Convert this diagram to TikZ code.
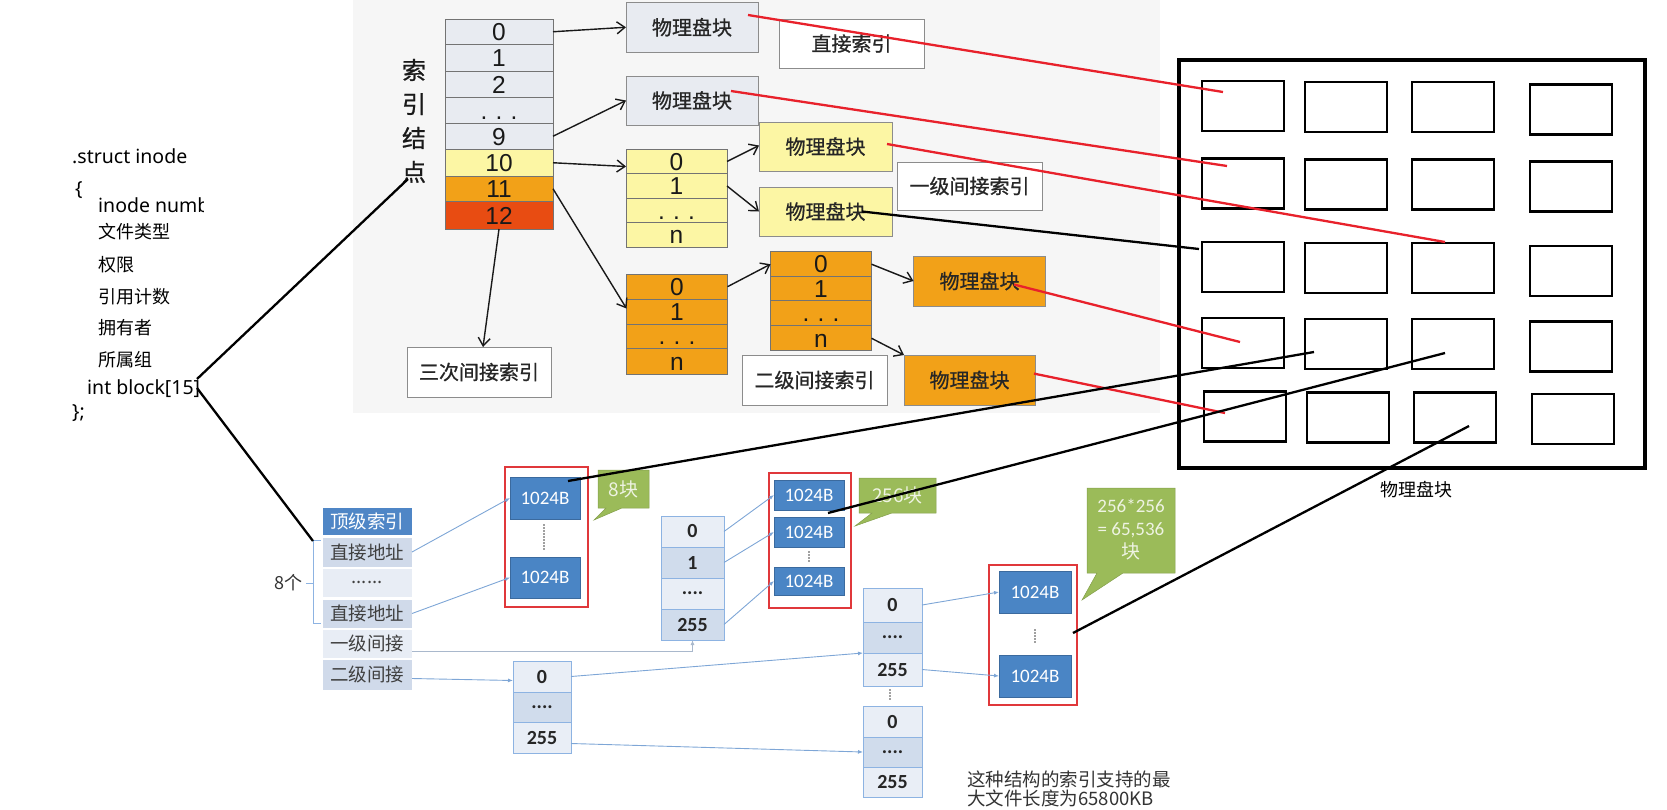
\documentclass[tikz,border=0pt]{standalone}
\usepackage{fontspec}
\setmainfont{Noto Sans CJK SC}
\newfontfamily\arialf{Liberation Sans}
\newfontfamily\calf{Carlito}
\newfontfamily\segf{Noto Sans}
\newfontfamily\topf[FakeBold=0.8]{Noto Sans CJK SC}
\usetikzlibrary{arrows.meta,calc}
\definecolor{bggray}{HTML}{F6F6F6}
\definecolor{gbox}{HTML}{E8EBF1}
\definecolor{ybox}{HTML}{FCF6A4}
\definecolor{obox}{HTML}{F2A118}
\definecolor{rbox}{HTML}{E84C12}
\definecolor{hdrblue}{HTML}{4F86C6}
\definecolor{rowdark}{HTML}{D0DAEA}
\definecolor{rowlight}{HTML}{E8EDF5}
\definecolor{colborder}{HTML}{8DB3E2}
\definecolor{colfillA}{HTML}{E9EEF6}
\definecolor{colfillB}{HTML}{D0DCEC}
\definecolor{blkblue}{HTML}{4A85C5}
\definecolor{redline}{HTML}{E8212B}
\definecolor{framered}{HTML}{E0383B}
\definecolor{calgreen}{HTML}{9BBB59}
\definecolor{caltext}{HTML}{EEF3E2}
\definecolor{arrowblue}{HTML}{7EA6D6}
\definecolor{arrowgray}{HTML}{A9B8CC}
\begin{document}
\begin{tikzpicture}[x=1pt,y=-1pt,
  cellg/.style={draw=black!55, line width=0.9pt, inner sep=0pt, outer sep=0pt},
  idx/.style={cellg, minimum width=108pt, font=\arialf\fontsize{24.5}{24.5}\selectfont, text=black!90, text height=17.5pt, text depth=0pt},
  ycell/.style={cellg, minimum width=101pt, font=\arialf\fontsize{24.5}{24.5}\selectfont, text=black!90, text height=17.5pt, text depth=0pt},
  tb/.style={cellg, draw=black!45, font=\topf\fontsize{20}{20}\selectfont, text=black!85},
  lb/.style={tb, fill=white},
  code/.style={anchor=west, inner sep=0pt, font=\fontsize{18}{18}\selectfont, text=black},
  codel/.style={code, font=\segf\fontsize{19.5}{19.5}\selectfont},
  arr/.style={-{Straight Barb[length=8pt,width=12pt]}, line width=1.4pt, black!90},
  redl/.style={redline, line width=2.3pt},
  blkl/.style={black, line width=2.3pt},
  gcell/.style={draw=black, line width=2.7pt, minimum width=82pt, minimum height=50pt, inner sep=0pt},
  tbl/.style={inner sep=0pt, outer sep=0pt, minimum width=90pt, draw=white, line width=1pt, font=\fontsize{18.5}{18.5}\selectfont, text=black!75},
  colc/.style={draw=colborder, line width=1pt, inner sep=0pt, outer sep=0pt, font=\calf\bfseries\fontsize{20}{20}\selectfont, text=black!85},
  blk/.style={draw=blkblue!80!black, fill=blkblue, line width=0.6pt, text=white, font=\calf\fontsize{19}{19}\selectfont, inner sep=0pt, outer sep=0pt},
  frm/.style={draw=framered, line width=2pt, inner sep=0pt, fill=white},
  barr/.style={arrowblue, line width=0.9pt, -{Latex[length=5pt,width=4pt]}},
  vdots/.style={black!75, line width=1.8pt, line cap=round, dash pattern=on 0pt off 3pt}
]
\useasboundingbox (0,0) rectangle (1667,809);
\fill[bggray] (353,0) rectangle (1160,413);

% ---------- code text ----------
\node[codel] (cs) at (72,156) {.struct inode};
\node[codel] (cbr) at (75,190) {\{};
\begin{scope}
\clip (60,192) rectangle (203,220);
\node[codel] (cn) at (98,205) {inode numb};
\end{scope}
\node[code] (c1) at (98,232) {文件类型};
\node[code] (c2) at (98,265) {权限};
\node[code] (c3) at (98,297) {引用计数};
\node[code] (c4) at (98,328) {拥有者};
\node[code] (c5) at (98,360) {所属组};
\node[codel] (c6) at (87,389) {int block[15]};
\node[codel] (c7) at (72,413) {\};};

% ---------- top: index node ----------
\node[font=\topf\fontsize{24}{34}\selectfont, align=center, inner sep=0pt, text=black!90] (syjd) at (414,121) {索\\引\\结\\点};
\node[idx, fill=gbox, minimum height=25.5pt] (r0) at (499,31.75) {0};
\node[idx, fill=gbox, minimum height=26.5pt] (r1) at (499,57.75) {1};
\node[idx, fill=gbox, minimum height=26.5pt] (r2) at (499,84.25) {2};
\node[idx, fill=gbox, minimum height=25.5pt] (r3) at (499,110.25) {.\,\,.\,\,.};
\node[idx, fill=gbox, minimum height=26.5pt] (r4) at (499,136.25) {9};
\node[idx, fill=ybox, minimum height=26.5pt] (r5) at (499,162.75) {10};
\node[idx, fill=obox, minimum height=25.5pt] (r6) at (499,188.75) {11};
\node[idx, fill=rbox, minimum height=27.5pt] (r7) at (499,215.25) {12};

% physical blocks and labels
\node[tb, fill=gbox, minimum width=132pt, minimum height=49.5pt] (pbA) at (692,27.25) {物理盘块};
\node[lb, minimum width=145pt, minimum height=49pt] (zjsy) at (851.5,43.5) {直接索引};
\node[tb, fill=gbox, minimum width=132pt, minimum height=49pt] (pbB) at (692,100.5) {物理盘块};

% yellow single indirect
\node[ycell, fill=ybox, minimum height=23.8pt] (y0) at (676.5,161.5) {0};
\node[ycell, fill=ybox, minimum height=25.2pt] (y1) at (676.5,186) {1};
\node[ycell, fill=ybox, minimum height=23.8pt] (y2) at (676.5,210.5) {.\,\,.\,\,.};
\node[ycell, fill=ybox, minimum height=25.5pt] (y3) at (676.5,235.15) {n};
\node[tb, fill=ybox, minimum width=133pt, minimum height=49pt] (pbC) at (825.5,146.5) {物理盘块};
\node[tb, fill=ybox, minimum width=133pt, minimum height=49pt] (pbD) at (825.5,211.5) {物理盘块};
\node[lb, minimum width=145pt, minimum height=48pt] (yjsy) at (969.5,186) {一级间接索引};

% orange double indirect
\node[ycell, fill=obox, minimum height=24.6pt] (oa0) at (677,286.7) {0};
\node[ycell, fill=obox, minimum height=25pt] (oa1) at (677,311.5) {1};
\node[ycell, fill=obox, minimum height=24.4pt] (oa2) at (677,336.2) {.\,\,.\,\,.};
\node[ycell, fill=obox, minimum height=25.8pt] (oa3) at (677,361.3) {n};
\node[ycell, fill=obox, minimum height=25.2pt] (ob0) at (821,264.2) {0};
\node[ycell, fill=obox, minimum height=23.8pt] (ob1) at (821,288.7) {1};
\node[ycell, fill=obox, minimum height=25.2pt] (ob2) at (821,313.2) {.\,\,.\,\,.};
\node[ycell, fill=obox, minimum height=24.9pt] (ob3) at (821,338.25) {n};
\node[tb, fill=obox, minimum width=132pt, minimum height=50pt] (pbE) at (979.5,281) {物理盘块};
\node[tb, fill=obox, minimum width=131pt, minimum height=50pt] (pbF) at (969.5,380) {物理盘块};
\node[lb, minimum width=145pt, minimum height=50pt] (ejsy) at (814.5,380) {二级间接索引};
\node[lb, minimum width=144pt, minimum height=50pt] (scjsy) at (479,372) {三次间接索引};

% top arrows
\draw[arr] (r0.east) -- (pbA.west);
\draw[arr] (r4.east) -- (pbB.west);
\draw[arr] (r5.east) -- ($(y0.west)+(0,5)$);
\draw[arr] (y0.east) -- ($(pbC.west)+(0,-1)$);
\draw[arr] (y1.east) -- (pbD.west);
\draw[arr] (r6.east) -- ($(oa1.west)+(0,-3)$);
\draw[arr] (oa0.east) -- (ob0.west);
\draw[arr] (ob0.east) -- (pbE.west);
\draw[arr] (ob3.east) -- (pbF.north west);
\draw[arr] (r7.south) -- ($(scjsy.north)+(4,0)$);

% ---------- disk grid ----------
\draw[line width=4pt] (1179,60) rectangle (1645,468);
\node[gcell] (g11) at (1243,106) {};
\node[gcell] (g12) at (1346,107) {};
\node[gcell] (g13) at (1453,107) {};
\node[gcell] (g14) at (1571,109.5) {};
\node[gcell] (g21) at (1243,183.5) {};
\node[gcell] (g22) at (1346,184.5) {};
\node[gcell] (g23) at (1453,184.5) {};
\node[gcell] (g24) at (1571,186.5) {};
\node[gcell] (g31) at (1243,267) {};
\node[gcell] (g32) at (1346,268) {};
\node[gcell] (g33) at (1453,268) {};
\node[gcell] (g34) at (1571,271) {};
\node[gcell] (g41) at (1243,343) {};
\node[gcell] (g42) at (1346,344) {};
\node[gcell] (g43) at (1453,344) {};
\node[gcell] (g44) at (1571,346.5) {};
\node[gcell] (g51) at (1245,416.5) {};
\node[gcell] (g52) at (1348,417.5) {};
\node[gcell] (g53) at (1455,417.5) {};
\node[gcell] (g54) at (1573,419) {};
\node[font=\fontsize{18}{18}\selectfont, inner sep=0pt] (glab) at (1416,490) {物理盘块};

% ---------- bottom: table ----------
\node[tbl, fill=hdrblue, text=white, minimum height=28pt] (t0) at (367,521) {顶级索引};
\node[tbl, fill=rowdark, minimum height=30pt] (t1) at (367,552) {直接地址};
\node[tbl, fill=rowlight, minimum height=29pt] (t2) at (367,582.5) {......};
\node[tbl, fill=rowdark, minimum height=29pt] (t3) at (367,613.5) {直接地址};
\node[tbl, fill=rowlight, minimum height=29pt] (t4) at (367,643.5) {一级间接};
\node[tbl, fill=rowdark, minimum height=31pt] (t5) at (367,674.5) {二级间接};
\draw[colborder, line width=1pt] (321,540) -- (313,540) -- (313,623) -- (321,623);
\draw[colborder, line width=1pt] (313,583) -- (306,583);
\node[anchor=east, inner sep=0pt, font=\fontsize{18}{18}\selectfont, text=black!80] (n8) at (303,583) {8个};

% red frame 1 (direct blocks)
\node[frm, minimum width=83pt, minimum height=140pt] (f1) at (546.5,537) {};
\node[blk, minimum width=70pt, minimum height=42pt] (b1a) at (545,498) {1024B};
\node[blk, minimum width=70pt, minimum height=41pt] (b1b) at (545,577.5) {1024B};
\draw[vdots] (544,525) -- (544,549);
\filldraw[fill=calgreen, draw=calgreen!85!black, line width=0.5pt] (598,470) -- (649,470) -- (649,508) -- (622,508) -- (594,520) -- (606,508) -- (598,508) -- cycle;
\node[inner sep=0pt, text=caltext, font=\fontsize{19}{19}\selectfont] (c8) at (623.5,489) {8块};

% single indirect column
\node[colc, fill=colfillA, minimum width=63pt, minimum height=31pt] (cB0) at (692.5,531.5) {0};
\node[colc, fill=colfillB, minimum width=63pt, minimum height=31pt] (cB1) at (692.5,562.5) {1};
\node[colc, fill=colfillA, minimum width=63pt, minimum height=31pt] (cB2) at (692.5,593.5) {....};
\node[colc, fill=colfillB, minimum width=63pt, minimum height=31pt] (cB3) at (692.5,624.5) {255};

\node[frm, minimum width=82pt, minimum height=135pt] (f2) at (810,540.5) {};
\node[blk, minimum width=70pt, minimum height=30pt] (b2a) at (809,495) {1024B};
\node[blk, minimum width=70pt, minimum height=30pt] (b2b) at (809,532) {1024B};
\node[blk, minimum width=70pt, minimum height=28pt] (b2c) at (809,581) {1024B};
\draw[vdots] (809,552) -- (809,563);
\filldraw[fill=calgreen, draw=calgreen!85!black, line width=0.5pt] (859,478) -- (936,478) -- (936,513) -- (892,513) -- (855,526) -- (872,513) -- (859,513) -- cycle;
\node[inner sep=0pt, text=caltext, font=\fontsize{19}{19}\selectfont] (c256) at (897.5,495.5) {256块};

% double indirect columns
\node[colc, fill=colfillA, minimum width=58pt, minimum height=31pt] (cA0) at (542,676.5) {0};
\node[colc, fill=colfillB, minimum width=58pt, minimum height=30pt] (cA1) at (542,707) {....};
\node[colc, fill=colfillA, minimum width=58pt, minimum height=31pt] (cA2) at (542,737.5) {255};

\node[colc, fill=colfillA, minimum width=59pt, minimum height=34pt] (cC0) at (892.5,605) {0};
\node[colc, fill=colfillB, minimum width=59pt, minimum height=31pt] (cC1) at (892.5,637.5) {....};
\node[colc, fill=colfillA, minimum width=59pt, minimum height=33pt] (cC2) at (892.5,669.5) {255};
\draw[vdots] (890,690) -- (890,701);
\node[colc, fill=colfillA, minimum width=59pt, minimum height=31pt] (cD0) at (892.5,721.5) {0};
\node[colc, fill=colfillB, minimum width=59pt, minimum height=30pt] (cD1) at (892.5,752) {....};
\node[colc, fill=colfillA, minimum width=59pt, minimum height=30pt] (cD2) at (892.5,782) {255};

\node[frm, minimum width=88pt, minimum height=140pt] (f3) at (1033,635) {};
\node[blk, minimum width=72pt, minimum height=42pt] (b3a) at (1035,592) {1024B};
\node[blk, minimum width=72pt, minimum height=42pt] (b3b) at (1035,676) {1024B};
\draw[vdots] (1035,630) -- (1035,643);
\filldraw[fill=calgreen, draw=calgreen!85!black, line width=0.5pt] (1087,488) -- (1175,488) -- (1175,573) -- (1123,573) -- (1082,600) -- (1097,573) -- (1087,573) -- cycle;
\node[inner sep=0pt, text=caltext, align=center, font=\calf\fontsize{19}{23}\selectfont] (c65) at (1131,530) {256*256\\= 65,536\\{\rmfamily 块}};

% bottom arrows
\draw[barr] (t1.east) -- (b1a.west);
\draw[barr] (t3.east) -- (b1b.west);
\draw[barr, arrowgray] ($(t4.east)+(0,7.5)$) -| (cB3.south);
\draw[barr] ($(t5.east)+(0,4)$) -- ($(cA0.west)+(0,4)$);
\draw[barr] (cB0.east) -- (b2a.west);
\draw[barr] (cB1.east) -- (b2b.west);
\draw[barr] (cB3.east) -- (b2c.west);
\draw[barr] (cA0.east) -- (cC1.south west);
\draw[barr] ($(cA2.east)+(0,6)$) -- (cD1.west);
\draw[barr] (cC0.east) -- (b3a.west);
\draw[barr] (cC2.east) -- (b3b.west);

\node[anchor=west, inner sep=0pt, font=\fontsize{18.5}{18.5}\selectfont, text=black!80] (nt1) at (967,779) {这种结构的索引支持的最};
\node[anchor=west, inner sep=0pt, font=\fontsize{18.5}{18.5}\selectfont, text=black!80] (nt2) at (967,798) {大文件长度为65800KB};

% ---------- mapping lines ----------
\coordinate (sA) at (748,15);   \coordinate (eA) at (1223,92);
\coordinate (sB) at (731,91);   \coordinate (eB) at (1227,166);
\coordinate (sC) at (887,144);  \coordinate (eC) at (1445,242);
\coordinate (sD) at (862,211.5);\coordinate (eD) at (1199,249);
\coordinate (sE) at (1014,284.5);\coordinate (eE) at (1240,342);
\coordinate (sF) at (1034,373.6);\coordinate (eF) at (1225,413);
\draw[redl] (sA) -- (eA);
\draw[redl] (sB) -- (eB);
\draw[redl] (sC) -- (eC);
\draw[blkl] (sD) -- (eD);
\draw[redl] (sE) -- (eE);
\draw[redl] (sF) -- (eF);

\coordinate (k1) at (568,481);  \coordinate (m1) at (1314,352);
\coordinate (k2) at (828,513);  \coordinate (m2) at (1445,353);
\coordinate (k3) at (1073,633); \coordinate (m3) at (1469,426);
\draw[blkl] (k1) -- (m1);
\draw[blkl] (k2) -- (m2);
\draw[blkl] (k3) -- (m3);

\coordinate (q1) at (197,379);  \coordinate (q2) at (197,388);
\coordinate (p1) at (408,179);  \coordinate (p2) at (313,541);
\draw[blkl] (q1) -- (p1);
\draw[blkl] (q2) -- (p2);
\end{tikzpicture}
\end{document}
